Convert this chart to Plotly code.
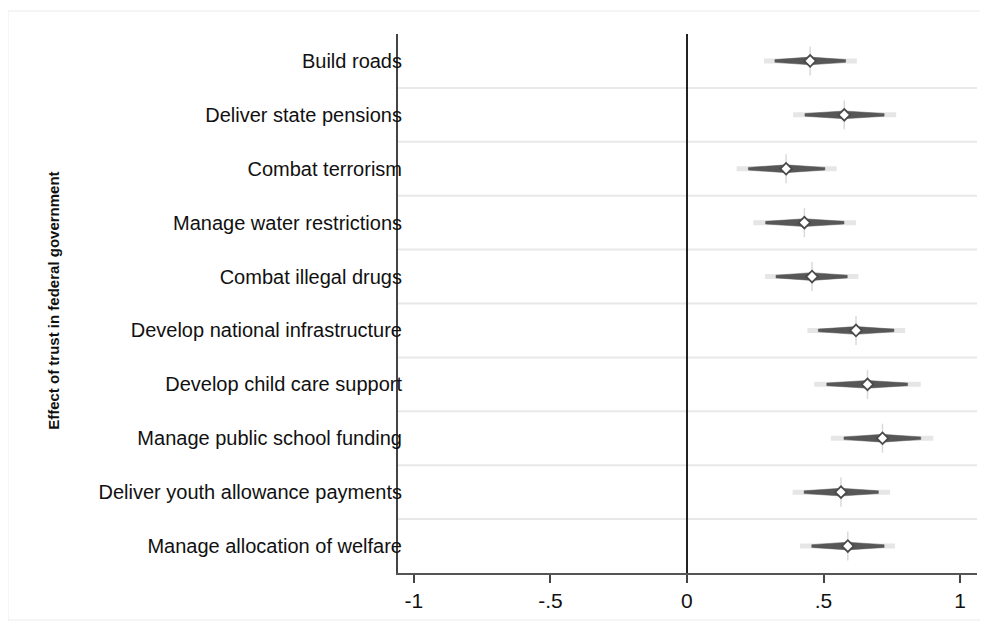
import plotly.graph_objects as go

labels = ["Build roads", "Deliver state pensions", "Combat terrorism",
          "Manage water restrictions", "Combat illegal drugs",
          "Develop national infrastructure", "Develop child care support",
          "Manage public school funding", "Deliver youth allowance payments",
          "Manage allocation of welfare"]
est = [0.451, 0.576, 0.363, 0.430, 0.458, 0.619, 0.661, 0.716, 0.564, 0.589]
lo95 = [0.322, 0.432, 0.225, 0.288, 0.326, 0.481, 0.512, 0.575, 0.429, 0.457]
hi95 = [0.581, 0.722, 0.505, 0.575, 0.587, 0.758, 0.808, 0.856, 0.701, 0.722]
lo99 = [0.282, 0.389, 0.182, 0.243, 0.286, 0.441, 0.466, 0.527, 0.387, 0.414]
hi99 = [0.622, 0.766, 0.548, 0.619, 0.628, 0.799, 0.856, 0.902, 0.744, 0.762]
xticks = [-1, -0.5, 0, 0.5, 1]
xticklabels = ["-1", "-.5", "0", ".5", "1"]

n = len(labels)
DARK = "#575757"
LIGHT = "#e6e6e6"
hc, he, hv = 0.072, 0.025, 0.27

fig = go.Figure()
for i in range(n):
    fig.add_trace(go.Scatter(x=[lo99[i], hi99[i]], y=[i, i], mode="lines",
                             line=dict(color=LIGHT, width=5), hoverinfo="skip",
                             showlegend=False))
    fig.add_trace(go.Scatter(x=[est[i], est[i]], y=[i - hv, i + hv], mode="lines",
                             line=dict(color="#dadada", width=1.5), hoverinfo="skip",
                             showlegend=False))
    fig.add_trace(go.Scatter(
        x=[lo95[i], lo95[i], est[i], hi95[i], hi95[i], est[i], lo95[i]],
        y=[i - he, i + he, i + hc, i + he, i - he, i - hc, i - he],
        mode="lines", fill="toself", fillcolor=DARK,
        line=dict(color=DARK, width=0.5), hoverinfo="skip", showlegend=False))

fig.add_trace(go.Scatter(x=est, y=list(range(n)), mode="markers",
                         marker=dict(symbol="diamond", size=9, color="white",
                                     line=dict(color="#4a4a4a", width=1.8)),
                         showlegend=False))

shapes = []
for i in range(n - 1):
    shapes.append(dict(type="line", xref="paper", yref="y", x0=0, x1=1,
                       y0=i + 0.5, y1=i + 0.5, layer="below",
                       line=dict(color="#e8e8e8", width=2)))
shapes.append(dict(type="rect", xref="paper", yref="paper",
                   x0=-0.6736, x1=1.0155, y0=-0.0872, y1=1.0427,
                   line=dict(color="#ebebeb", width=1), layer="below"))

fig.update_layout(
    width=980, height=618,
    margin=dict(l=390, r=11, t=26, b=53),
    paper_bgcolor="white", plot_bgcolor="white",
    font=dict(family="Liberation Sans, Arial, sans-serif", color="#111111"),
    shapes=shapes,
    xaxis=dict(range=[-1.058, 1.062], tickvals=xticks, ticktext=xticklabels,
               showgrid=False, zeroline=True, zerolinecolor="#222222", zerolinewidth=2,
               showline=True, linecolor="#555555", linewidth=2,
               ticks="outside", ticklen=8, tickwidth=1.5, tickcolor="#444444",
               tickfont=dict(size=21, color="#111111")),
    yaxis=dict(range=[n - 0.5, -0.5], tickvals=list(range(n)), ticktext=labels,
               showgrid=False, zeroline=False,
               showline=True, linecolor="#444444", linewidth=2,
               ticks="", ticklabelstandoff=-10,
               tickfont=dict(size=20, color="#111111")),
    annotations=[dict(text="<b>Effect of trust in federal government</b>",
                      xref="paper", yref="paper", x=(46 - 390) / 579, y=0.505,
                      xanchor="center", yanchor="middle",
                      textangle=-90, showarrow=False,
                      font=dict(size=15, color="#111111"))],
)

fig.write_html("out.html")
